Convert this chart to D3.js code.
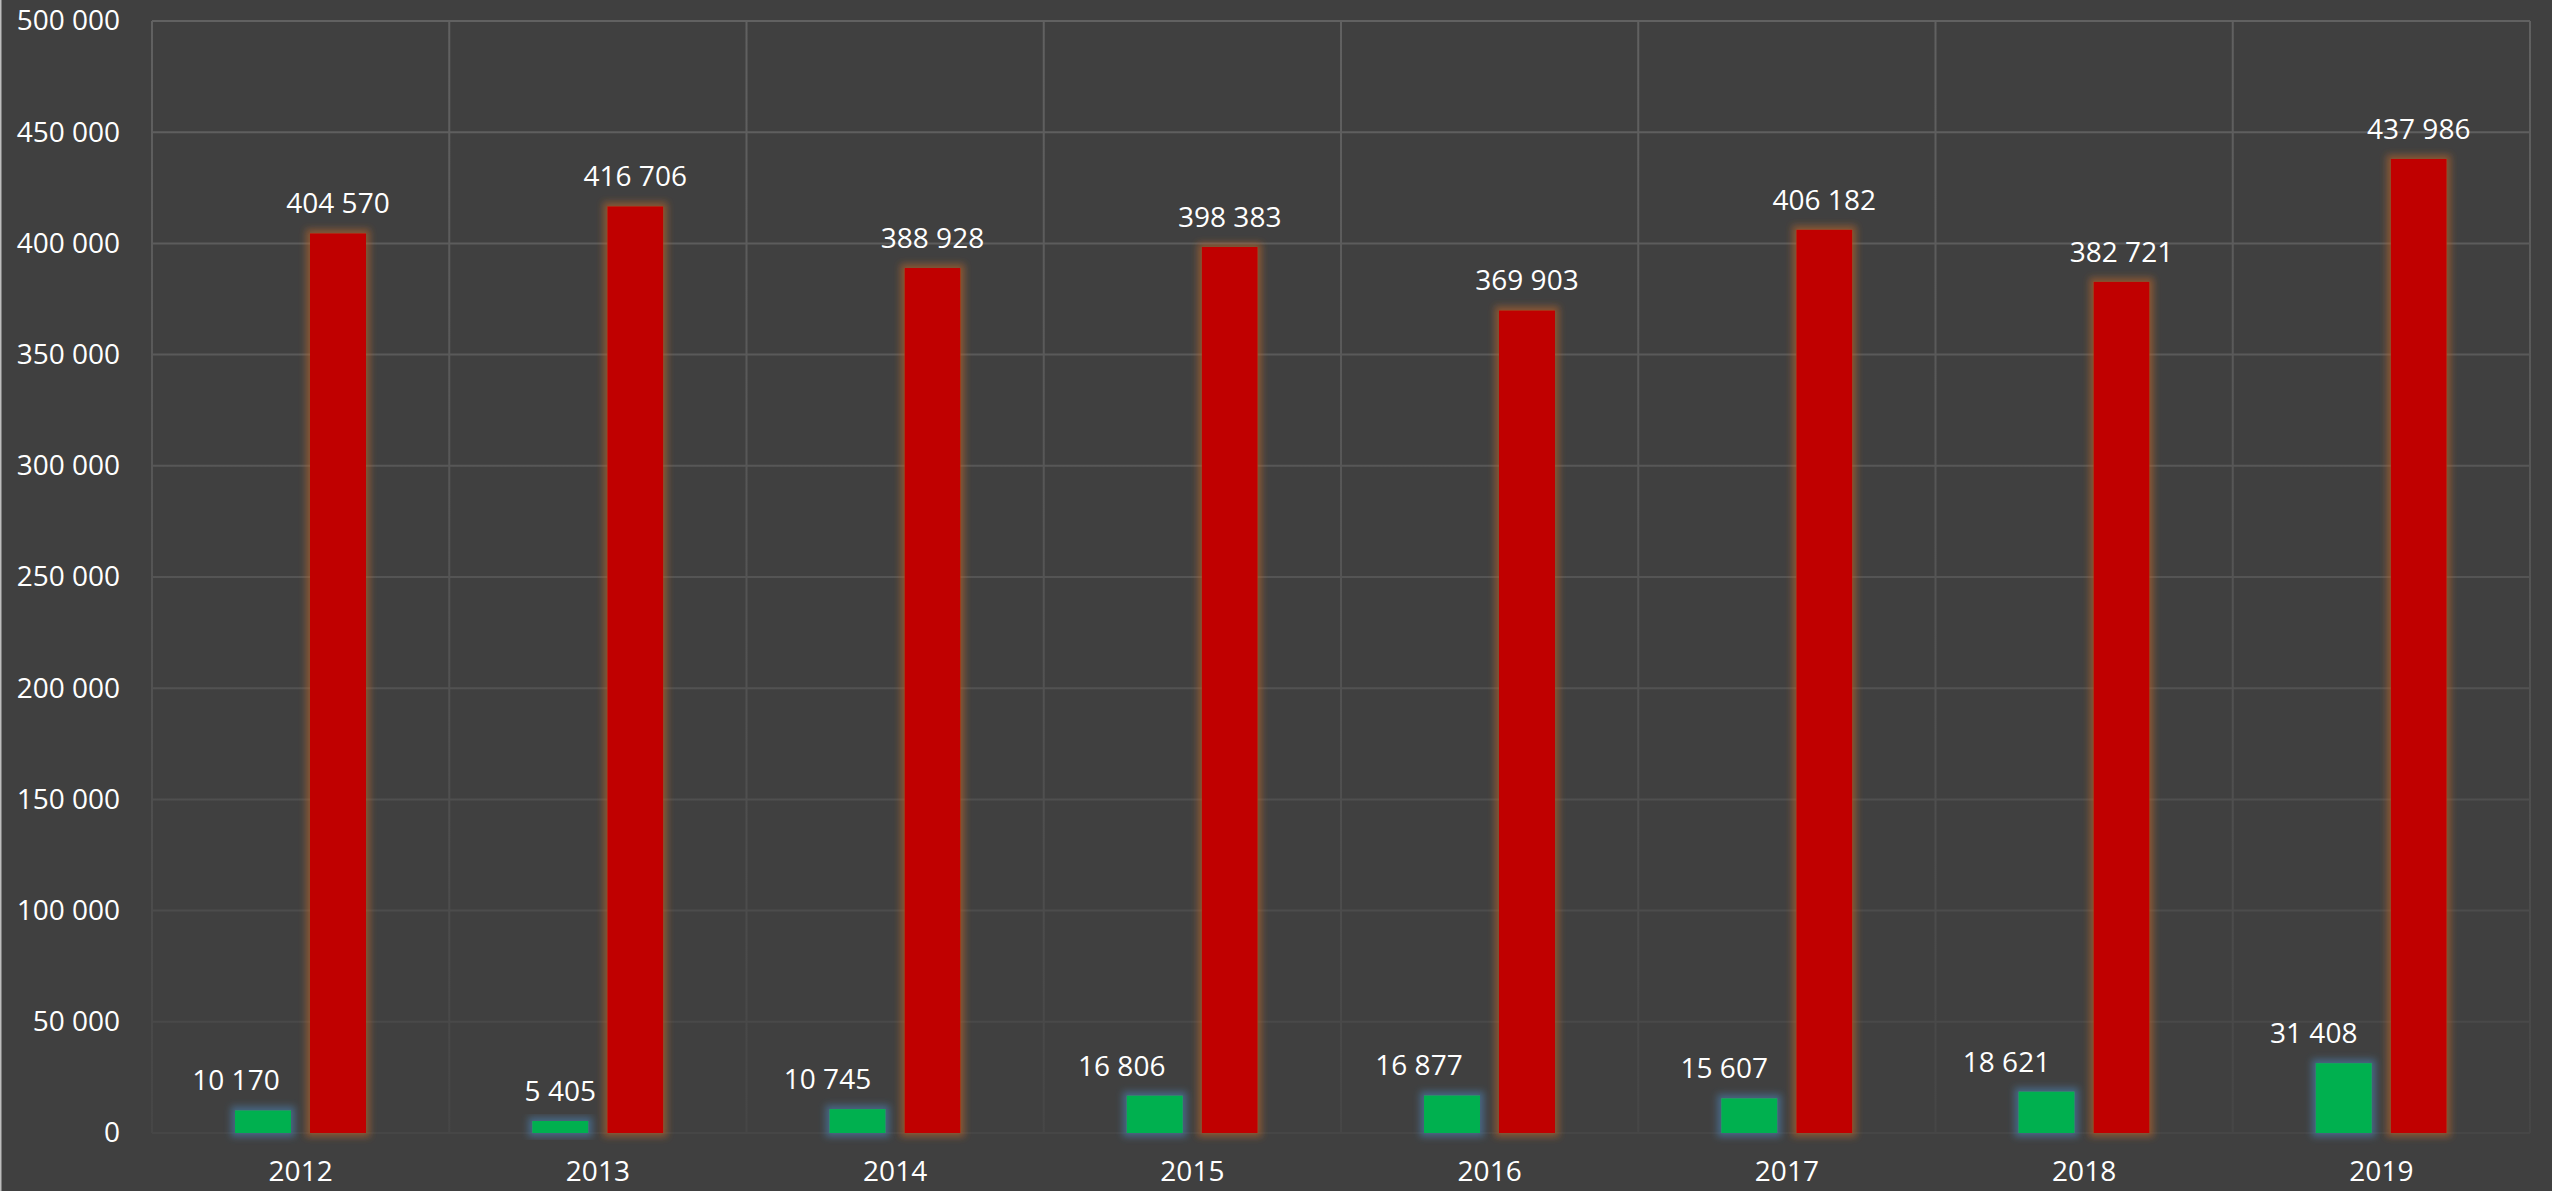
<!DOCTYPE html>
<html>
<head>
<meta charset="utf-8">
<script src="https://cdn.jsdelivr.net/npm/d3@7"></script>
<style>
  html, body { margin: 0; padding: 0; background: #404040; overflow: hidden; }
  text { font-family: "Open Sans", sans-serif; fill: #ffffff; }
</style>
</head>
<body>
<div id="vis"></div>
<script>
const FRAME_WIDTH = 2552;
const FRAME_HEIGHT = 1191;
const MARGINS = {left: 152, right: 22, top: 21, bottom: 58};

// data
const years = ["2012", "2013", "2014", "2015", "2016", "2017", "2018", "2019"];
const series = ["green", "red"];
const greenValues = [10170, 5405, 10745, 16806, 16877, 15607, 18621, 31408];
const redValues = [404570, 416706, 388928, 398383, 369903, 406182, 382721, 437986];
const yTicks = [0, 50000, 100000, 150000, 200000, 250000, 300000, 350000, 400000, 450000, 500000];

// small horizontal nudges for the green labels (layout only)
const GREEN_LABEL_NUDGE = [-27, 0, -30, -33, -33, -25, -40, -30];

const COLORS = {green: "#00b050", red: "#c00000"};
const GLOWS = {green: "#4a7fb0", red: "#b8652a"};

const svg = d3.select("#vis")
  .append("svg")
    .attr("width", FRAME_WIDTH)
    .attr("height", FRAME_HEIGHT);

svg.append("rect")
  .attr("width", FRAME_WIDTH)
  .attr("height", FRAME_HEIGHT)
  .attr("fill", "#404040");

// light edge on the left of the picture
svg.append("line")
  .attr("x1", 0.75).attr("x2", 0.75)
  .attr("y1", 0).attr("y2", FRAME_HEIGHT)
  .attr("stroke", "#bdbdbd")
  .attr("stroke-width", 1.5);

const defs = svg.append("defs");

// grid fades towards the bottom
const grad = defs.append("linearGradient")
  .attr("id", "gridFade")
  .attr("gradientUnits", "userSpaceOnUse")
  .attr("x1", 0).attr("x2", 0)
  .attr("y1", MARGINS.top).attr("y2", FRAME_HEIGHT - MARGINS.bottom);
grad.append("stop").attr("offset", "0%").attr("stop-color", "#616161");
grad.append("stop").attr("offset", "60%").attr("stop-color", "#525252");
grad.append("stop").attr("offset", "100%").attr("stop-color", "#464646");

// glow filters
series.forEach((s) => {
  const f = defs.append("filter")
    .attr("id", "glow-" + s)
    .attr("x", "-50%").attr("y", "-50%")
    .attr("width", "200%").attr("height", "200%");
  f.append("feMorphology")
    .attr("in", "SourceAlpha").attr("operator", "dilate").attr("radius", 4)
    .attr("result", "dil");
  f.append("feGaussianBlur")
    .attr("in", "dil").attr("stdDeviation", 3.5).attr("result", "blur");
  f.append("feFlood")
    .attr("flood-color", GLOWS[s]).attr("flood-opacity", 0.6)
    .attr("result", "col");
  f.append("feComposite")
    .attr("in", "col").attr("in2", "blur").attr("operator", "in").attr("result", "glow");
  const m = f.append("feMerge");
  m.append("feMergeNode").attr("in", "glow");
  m.append("feMergeNode").attr("in", "SourceGraphic");
});

const xScale = d3.scaleBand()
  .domain(years)
  .range([MARGINS.left, FRAME_WIDTH - MARGINS.right])
  .padding(0);

const xInner = d3.scaleBand()
  .domain(series)
  .range([83, 214])
  .paddingInner(0.2533);

const yScale = d3.scaleLinear()
  .domain([0, 500000])
  .range([FRAME_HEIGHT - MARGINS.bottom, MARGINS.top]);

const fmt = (v) => d3.format(",")(v).replace(/,/g, " ");

// horizontal grid
svg.append("g")
  .selectAll("line")
  .data(yTicks)
  .enter()
  .append("line")
    .attr("x1", MARGINS.left)
    .attr("x2", FRAME_WIDTH - MARGINS.right)
    .attr("y1", (d) => yScale(d))
    .attr("y2", (d) => yScale(d))
    .attr("stroke", "url(#gridFade)")
    .attr("stroke-width", 2);

// vertical grid at category edges
const edges = years.map((y) => xScale(y)).concat([FRAME_WIDTH - MARGINS.right]);
svg.append("g")
  .selectAll("line")
  .data(edges)
  .enter()
  .append("line")
    .attr("x1", (d) => d)
    .attr("x2", (d) => d)
    .attr("y1", MARGINS.top)
    .attr("y2", FRAME_HEIGHT - MARGINS.bottom)
    .attr("stroke", "url(#gridFade)")
    .attr("stroke-width", 2);

// y axis
const yAxis = svg.append("g")
  .attr("transform", "translate(" + (MARGINS.left - 32) + ",0)")
  .call(d3.axisLeft(yScale).tickValues(yTicks).tickFormat(fmt).tickSize(0).tickPadding(0));
yAxis.select(".domain").remove();
yAxis.selectAll("text")
  .attr("font-size", 28)
  .attr("fill", "#ffffff")
  .attr("font-family", "'Open Sans', sans-serif");

// x axis
const xAxis = svg.append("g")
  .attr("transform", "translate(0," + (FRAME_HEIGHT - MARGINS.bottom) + ")")
  .call(d3.axisBottom(xScale).tickSize(0).tickPadding(28));
xAxis.select(".domain").remove();
xAxis.selectAll("text")
  .attr("font-size", 28)
  .attr("fill", "#ffffff")
  .attr("font-family", "'Open Sans', sans-serif");

const rows = years.map((y, i) => ({year: y, i: i, green: greenValues[i], red: redValues[i]}));

// bars
series.forEach((s) => {
  svg.append("g")
    .selectAll("rect")
    .data(rows)
    .enter()
    .append("rect")
      .attr("x", (d) => xScale(d.year) + xInner(s))
      .attr("y", (d) => yScale(d[s]))
      .attr("width", xInner.bandwidth())
      .attr("height", (d) => yScale(0) - yScale(d[s]))
      .attr("fill", COLORS[s])
      .attr("filter", "url(#glow-" + s + ")");
});

// value labels
series.forEach((s) => {
  svg.append("g")
    .selectAll("text")
    .data(rows)
    .enter()
    .append("text")
      .attr("x", (d) => xScale(d.year) + xInner(s) + xInner.bandwidth() / 2 +
        (s === "green" ? GREEN_LABEL_NUDGE[d.i] : 0))
      .attr("y", (d) => yScale(d[s]) - 20)
      .attr("text-anchor", "middle")
      .attr("font-size", 28)
      .text((d) => fmt(d[s]));
});
</script>
</body>
</html>
